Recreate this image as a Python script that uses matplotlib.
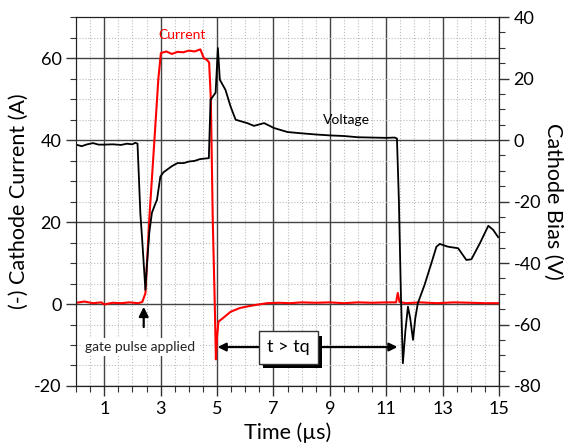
import numpy as np
import matplotlib
matplotlib.use("Agg")
import matplotlib.pyplot as plt
from matplotlib.ticker import MultipleLocator
import matplotlib.patheffects as pe

plt.rcParams['font.family'] = ['Lato', 'DejaVu Sans']
plt.rcParams['axes.unicode_minus'] = False

# cathode current (A)
t_cur = [0.0, 0.3, 0.6, 0.9, 1.0, 1.3, 1.6, 1.9, 2.2, 2.35, 2.46, 2.6, 2.78, 2.92,
         3.01, 3.2, 3.4, 3.6, 3.8, 4.0, 4.2, 4.41, 4.53, 4.65, 4.72, 4.78, 4.85,
         4.92, 4.96, 5.0, 5.05, 5.2, 5.48, 5.8, 6.07, 6.4, 6.78, 7.2, 7.6, 8.0,
         8.5, 9.0, 9.5, 10.0, 10.5, 11.0, 11.35, 11.41, 11.47, 11.7, 12.2, 12.8,
         13.4, 14.0, 14.5, 15.0]
i_cur = [0.3, 0.6, 0.2, 0.4, -0.1, 0.3, 0.2, 0.4, 0.2, 0.5, 2.6, 21, 40, 55,
         61.2, 61.6, 61.0, 61.5, 61.4, 61.8, 61.6, 62.1, 60.0, 59.5, 58.9, 50, 20,
         0, -13.5, -8, -4.3, -3.5, -1.9, -1.0, -0.6, -0.2, 0.2, 0.3, 0.2, 0.4,
         0.3, 0.4, 0.2, 0.4, 0.3, 0.4, 0.4, 2.7, 0.5, 0.2, 0.4, 0.2, 0.4, 0.3,
         0.2, 0.2]

# cathode bias (V)
t_volt = [0.0, 0.2, 0.4, 0.6, 0.8, 1.0, 1.3, 1.6, 1.8, 2.0, 2.1, 2.18, 2.22, 2.28,
          2.35, 2.46, 2.51, 2.6, 2.69, 2.8, 2.87, 2.99, 3.1, 3.22, 3.4, 3.6, 3.82,
          4.0, 4.2, 4.4, 4.6, 4.71, 4.77, 4.95, 5.03, 5.1, 5.3, 5.48, 5.66, 6.07,
          6.31, 6.67, 7.02, 7.5, 7.97, 8.5, 9.0, 9.5, 10.0, 10.5, 11.0, 11.3, 11.38,
          11.45, 11.52, 11.59, 11.68, 11.77, 11.85, 11.95, 12.03, 12.12, 12.36,
          12.6, 12.78, 12.9, 13.19, 13.55, 13.84, 14.02, 14.32, 14.62, 14.79, 14.97]
v_volt = [-1.5, -2.0, -1.4, -1.0, -1.5, -1.5, -1.4, -1.6, -1.2, -1.4, -0.9, -1.2, -10, -23.7,
          -33, -48.7, -41.2, -30, -23.7, -21, -19.5, -11.9, -10.5, -9.7, -8.5, -7.5, -7.5,
          -7.0, -6.8, -6.2, -6.0, -5.9, 13.1, 15.4, 29.9, 19.6, 16.3, 10.9, 6.6, 5.5,
          4.6, 5.5, 3.9, 2.6, 2.2, 1.8, 1.5, 1.3, 0.9, 0.8, 0.7, 0.8, 0.5,
          -20, -50, -72.6, -62, -54.2, -58, -65, -58, -53.1, -47.1,
          -40.1, -34.7, -33.8, -34.7, -35.2, -39, -38.8, -33.6, -27.9, -29.2, -31.6]

fig = plt.figure(figsize=(5.64, 4.48), dpi=100)
ax = fig.add_axes([0.1348, 0.1384, 0.75, 0.8236])
ax2 = ax.twinx()

ax.set_xlim(0, 15)
ax.set_ylim(-20, 70)
ax2.set_ylim(-80, 40)

ax.set_xticks(np.arange(1, 16, 2))
ax.xaxis.set_minor_locator(MultipleLocator(0.5))
ax.set_yticks(np.arange(-20, 61, 20))
ax.yaxis.set_minor_locator(MultipleLocator(5))
ax2.set_yticks(np.arange(-80, 41, 20))
ax2.yaxis.set_minor_locator(MultipleLocator(5))

ax.grid(which='major', color='#444444', lw=1.0, ls='-')
ax.grid(which='minor', color='#bbbbbb', lw=0.8, ls=':')
ax.set_axisbelow(True)

for a in (ax, ax2):
    a.tick_params(which='major', length=7, width=1, labelsize=13, color='#333333')
    a.tick_params(which='minor', length=4, width=0.8, color='#333333')
    for s in a.spines.values():
        s.set_color('#222222')

ax.plot(t_cur, i_cur, color='#ff0000', lw=1.5, zorder=3)
ax2.plot(t_volt, v_volt, color='black', lw=1.3, zorder=2)

ax.set_xlabel('Time (µs)', fontsize=15.5, labelpad=4)
ax.set_ylabel('(-) Cathode Current (A)', fontsize=15.5, labelpad=4)
ax2.set_ylabel('Cathode Bias (V)', fontsize=15.5, rotation=270, labelpad=16)

ax.text(3.77, 65.5, 'Current', color='#ff0000', fontsize=10, ha='center', va='center')
ax2.text(9.6, 6.6, 'Voltage', color='black', fontsize=10, ha='center', va='center')

# annotations (left-axis coordinates, drawn on top)
ax2.annotate('', xy=(2.4, 0), xytext=(2.4, -6.3), xycoords=ax.transData,
             textcoords=ax.transData,
             arrowprops=dict(arrowstyle='-|>', color='black', lw=1.6, mutation_scale=14))
ax2.text(2.28, -10.5, 'gate pulse applied', transform=ax.transData, fontsize=10,
         ha='center', va='center', color='#222222',
         bbox=dict(facecolor='white', edgecolor='none', pad=2))
ax2.annotate('', xy=(5.02, -10.5), xytext=(11.4, -10.5), xycoords=ax.transData,
             textcoords=ax.transData,
             arrowprops=dict(arrowstyle='<|-|>', color='black', lw=1.6, mutation_scale=12,
                             shrinkA=0, shrinkB=0))
box = ax2.text(7.54, -10.6, 't > tq', transform=ax.transData, fontsize=13,
               ha='center', va='center', zorder=5,
               bbox=dict(boxstyle='square,pad=0.45', facecolor='white',
                         edgecolor='#333333', lw=1))
box.get_bbox_patch().set_path_effects([
    pe.SimplePatchShadow(offset=(3, -3), shadow_rgbFace='black', alpha=1), pe.Normal()])

fig.savefig('out.png', dpi=100)
